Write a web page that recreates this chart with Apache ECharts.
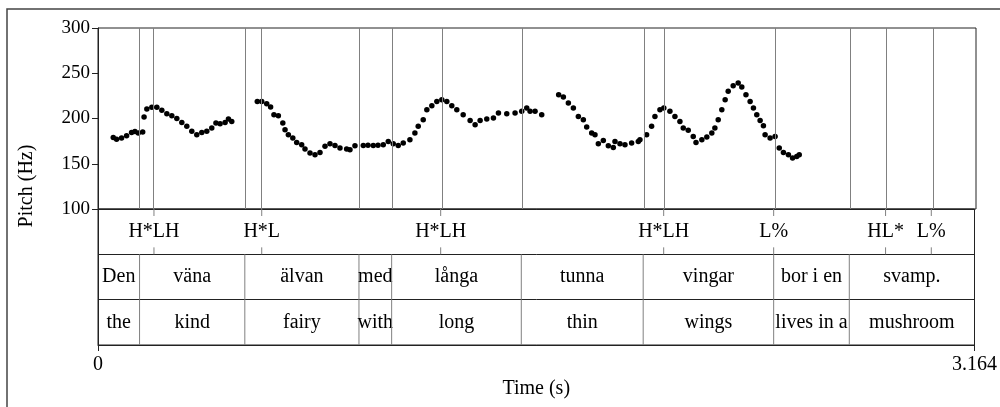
<!DOCTYPE html>
<html>
<head>
<meta charset="utf-8">
<script src="https://cdn.jsdelivr.net/npm/echarts@6/dist/echarts.min.js"></script>
<style>
  html, body { margin: 0; padding: 0; background: #fff; }
  #profile { width: 1000px; height: 407px; }
</style>
</head>
<body>
<div id="profile"></div>
<script>
// pitch track, [time (s), pitch (Hz)]
var seg1 = [
  [0.055,179],[0.067,177],[0.085,178.5],[0.103,181],[0.121,184.6],[0.133,185.7],[0.145,184],[0.161,185],
  [0.166,201.7],[0.176,210.5],[0.194,212.3],[0.212,212.3],[0.230,209],[0.248,205.3],[0.266,203],[0.284,200],
  [0.302,195.7],[0.320,191.3],[0.338,185.8],[0.356,182],[0.374,184.6],[0.392,185.8],[0.410,189.5],[0.425,195],
  [0.440,194.3],[0.458,195.7],[0.470,199.5],[0.482,196.8]
];
var seg2 = [
  [0.574,218.9],[0.590,218.9],[0.608,216.4],[0.622,212.7],[0.634,204.2],[0.650,203.1],[0.666,195],[0.674,187.6],
  [0.686,182.1],[0.702,178.5],[0.716,173.6],[0.734,171],[0.746,166.3],[0.764,161.9],[0.782,160],[0.800,162.5],
  [0.818,169.2],[0.836,172.2],[0.854,170.3],[0.872,167.4],[0.896,166.3],[0.908,165.5],[0.926,170],[0.956,170.3],
  [0.973,170.5],[0.992,170.3],[1.009,170.5],[1.028,171],[1.046,174.7],[1.064,172.2],[1.082,170.3],[1.100,173],
  [1.124,176.6],[1.142,184],[1.154,191.3],[1.172,198.7],[1.185,209.7],[1.203,214.1],[1.221,218.9],[1.239,220.8],
  [1.257,218.9],[1.275,214.1],[1.293,209.7],[1.316,204.2],[1.341,197.9],[1.359,193.2],[1.377,197.9],[1.401,199.5],
  [1.425,200.6],[1.443,206.1],[1.473,205.3],[1.503,206.1],[1.527,207.9],[1.545,211.6],[1.557,207.9],[1.575,207.9],
  [1.599,204.2]
];
var seg3 = [
  [1.660,226.3],[1.677,223.8],[1.695,217.1],[1.713,211.6],[1.731,202.3],[1.749,198.7],[1.761,190.6],[1.779,184],
  [1.791,182.1],[1.803,172.2],[1.821,175.8],[1.839,170],[1.857,168],[1.863,174.7],[1.881,172.2],[1.899,171],
  [1.923,173],[1.947,174.7],[1.953,176.6],[1.977,182.1],[1.995,191.3],[2.007,202.3],[2.025,209.7],[2.039,211.6],
  [2.061,207.9],[2.079,202.3],[2.097,196.8],[2.109,189.5],[2.127,186.9],[2.145,180.2],[2.155,173.6],[2.176,176.6],
  [2.194,179.6],[2.212,184],[2.223,189.5],[2.235,198.7],[2.248,209.7],[2.260,220.8],[2.271,230],[2.289,236.2],
  [2.307,239.2],[2.320,234.8],[2.335,226.3],[2.350,218.9],[2.362,211.6],[2.374,204.2],[2.386,197.9],[2.398,192],
  [2.404,182.1],[2.422,178.5],[2.440,180.2],[2.455,167.4],[2.470,162.5],[2.488,160],[2.503,156.4],[2.518,158.1],
  [2.527,160]
];

var totalTime = 3.164;
var pitchTicks = [100, 150, 200, 250, 300];

// interval tiers
var wordStarts = [0, 0.150, 0.530, 0.942, 1.060, 1.528, 1.968, 2.439, 2.712];
var wordEnds   = [0.150, 0.530, 0.942, 1.060, 1.528, 1.968, 2.439, 2.712, 3.164];
var swedish = ['Den', 'väna', 'älvan', 'med', 'långa', 'tunna', 'vingar', 'bor i en', 'svamp.'];
var english = ['the', 'kind', 'fairy', 'with', 'long', 'thin', 'wings', 'lives in a', 'mushroom'];

// point tier
var toneTimes = [0.202, 0.591, 1.237, 2.042, 2.439, 2.843, 3.008];
var toneLabels = ['H*LH', 'H*L', 'H*LH', 'H*LH', 'L%', 'HL*', 'L%'];

var FONT = '20px "Liberation Serif", "Times New Roman", serif';
var frameColor = '#222';
var lineGray = '#808080';

var myChart = echarts.init(document.getElementById('profile'));

var boundaryLines = wordStarts.slice(1).concat(toneTimes).map(function (t) {
  return { xAxis: t };
});

var intervalData = [];
for (var i = 0; i < swedish.length; i++) {
  intervalData.push([wordStarts[i], wordEnds[i], 1]);
}
for (var j = 0; j < english.length; j++) {
  intervalData.push([wordStarts[j], wordEnds[j], 0]);
}

function renderInterval(params, api) {
  var s = api.value(0), e = api.value(1), row = api.value(2);
  var a = api.coord([s, row]);
  var b = api.coord([e, row + 1]);
  var idx = params.dataIndex;
  var label = idx < swedish.length ? swedish[idx] : english[idx - swedish.length];
  var children = [];
  if (s > 0) {
    children.push({
      type: 'line',
      shape: { x1: a[0], y1: a[1], x2: a[0], y2: b[1] },
      style: { stroke: lineGray, lineWidth: 1 }
    });
  }
  children.push({
    type: 'text',
    x: (a[0] + b[0]) / 2,
    y: (a[1] + b[1]) / 2,
    style: { text: label, font: FONT, fill: '#000', align: 'center', verticalAlign: 'middle' }
  });
  return { type: 'group', children: children };
}

function renderTone(params, api) {
  var t = api.value(0);
  var top = api.coord([t, 3]);
  var bot = api.coord([t, 2]);
  return {
    type: 'group',
    children: [
      { type: 'line', shape: { x1: top[0], y1: top[1], x2: top[0], y2: top[1] + 7 },
        style: { stroke: lineGray, lineWidth: 1 } },
      { type: 'line', shape: { x1: bot[0], y1: bot[1] - 7, x2: bot[0], y2: bot[1] },
        style: { stroke: lineGray, lineWidth: 1 } },
      { type: 'text', x: top[0], y: (top[1] + bot[1]) / 2,
        style: { text: toneLabels[params.dataIndex], font: FONT, fill: '#000', align: 'center', verticalAlign: 'middle' } }
    ]
  };
}

var option = {
  animation: false,
  backgroundColor: '#fff',
  graphic: [
    {
      type: 'rect', z: -10, silent: true,
      shape: { x: 7, y: 9, width: 1100, height: 600 },
      style: { fill: 'none', stroke: '#444', lineWidth: 1.5 }
    },
    {
      type: 'text', x: 27, y: 186, rotation: Math.PI / 2, silent: true,
      style: { text: 'Pitch (Hz)', font: FONT, fill: '#000', align: 'center', verticalAlign: 'middle' }
    }
  ],
  grid: [
    { left: 98, top: 28, width: 878, height: 181, show: true, borderColor: frameColor, borderWidth: 1 },
    { left: 98, top: 209, width: 878, height: 136, show: true, borderColor: frameColor, borderWidth: 1 }
  ],
  xAxis: [
    { gridIndex: 0, type: 'value', min: 0, max: totalTime, show: false },
    {
      gridIndex: 1, type: 'value', min: 0, max: totalTime,
      axisLine: { lineStyle: { color: frameColor, width: 1 } },
      axisTick: { show: true, length: 6, customValues: [0, totalTime], lineStyle: { color: frameColor } },
      axisLabel: {
        customValues: [0, totalTime], margin: 10,
        fontFamily: 'Liberation Serif', fontSize: 20, color: '#000',
        formatter: function (v) { return v === 0 ? '0' : String(totalTime); }
      },
      splitLine: { show: false },
      name: 'Time (s)', nameLocation: 'middle', nameGap: 34,
      nameTextStyle: { fontFamily: 'Liberation Serif', fontSize: 20, color: '#000' }
    }
  ],
  yAxis: [
    {
      gridIndex: 0, type: 'value', min: 100, max: 300, interval: 50,
      axisLine: { show: true, lineStyle: { color: frameColor, width: 1 } },
      axisTick: { show: true, length: 6, lineStyle: { color: frameColor } },
      axisLabel: {
        margin: 8, fontFamily: 'Liberation Serif', fontSize: 19, color: '#000',
        customValues: pitchTicks
      },
      splitLine: { show: false }
    },
    {
      gridIndex: 1, type: 'value', min: 0, max: 3, interval: 1,
      axisLine: { show: true, lineStyle: { color: frameColor } },
      axisTick: { show: false },
      axisLabel: { show: false },
      splitLine: { show: true, lineStyle: { color: frameColor, width: 1 } }
    }
  ],
  series: [
    {
      type: 'scatter', xAxisIndex: 0, yAxisIndex: 0,
      data: seg1.concat(seg2, seg3),
      symbol: 'circle', symbolSize: 5.5,
      itemStyle: { color: '#000', opacity: 1 },
      silent: true,
      markLine: {
        silent: true, symbol: ['none', 'none'],
        label: { show: false },
        lineStyle: { color: lineGray, type: 'solid', width: 1, opacity: 1 },
        data: boundaryLines
      }
    },
    {
      type: 'custom', xAxisIndex: 1, yAxisIndex: 1,
      renderItem: renderInterval,
      data: intervalData,
      silent: true
    },
    {
      type: 'custom', xAxisIndex: 1, yAxisIndex: 1,
      renderItem: renderTone,
      data: toneTimes.map(function (t) { return [t]; }),
      silent: true
    }
  ]
};

myChart.setOption(option);
</script>
</body>
</html>
